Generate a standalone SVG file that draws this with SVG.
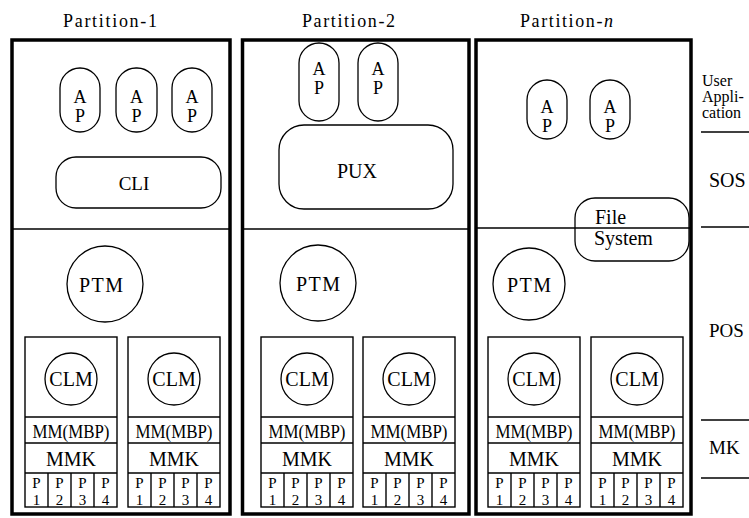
<svg xmlns="http://www.w3.org/2000/svg" width="749" height="518" viewBox="0 0 749 518" font-family="'Liberation Serif', 'Times New Roman', Times, 'DejaVu Serif', serif">
<style>
.frame{fill:none;stroke:#000;stroke-width:3.5}
.ln{fill:none;stroke:#000;stroke-width:1.3}
.cell{fill:none;stroke:#000;stroke-width:1.4}
text{font-family:'Liberation Serif','Times New Roman',Times,'DejaVu Serif',serif;fill:#000}
.t{text-anchor:middle}
.s20{font-size:20px}
.s19{font-size:19px}
.s18{font-size:18px}
.s17{font-size:17px}
.s15{font-size:15px}
.title{font-size:18px}
</style>
<rect width="749" height="518" fill="#fff"/>

<!-- Titles -->
<text class="title" x="63" y="27" textLength="94">Partition-1</text>
<text class="title" x="302" y="27" textLength="93">Partition-2</text>
<text class="title" x="520" y="27" textLength="93">Partition-<tspan font-style="italic">n</tspan></text>

<!-- Partition frames -->
<g id="partition-1">
<rect class="frame" x="12" y="40" width="218" height="474"/>
<line class="ln" x1="12" y1="229" x2="230" y2="229"/>
</g>
<g id="partition-2">
<rect class="frame" x="242.5" y="40" width="226.5" height="474"/>
<line class="ln" x1="242" y1="229" x2="469" y2="229"/>
</g>
<g id="partition-n">
<rect class="frame" x="476" y="40" width="215" height="474"/>
</g>

<!-- Partition-1 nodes -->
<g id="p1-ap1"><rect class="ln" x="60" y="68" width="40" height="64" rx="20"/><text class="t s18" x="80" y="103">A</text><text class="t s18" x="80" y="122">P</text></g>
<g id="p1-ap2"><rect class="ln" x="116" y="68" width="41" height="64" rx="20"/><text class="t s18" x="136.5" y="103">A</text><text class="t s18" x="136.5" y="122">P</text></g>
<g id="p1-ap3"><rect class="ln" x="172" y="68" width="40" height="64" rx="20"/><text class="t s18" x="192" y="103">A</text><text class="t s18" x="192" y="122">P</text></g>
<g id="p1-cli"><rect class="ln" x="56" y="157" width="165" height="51" rx="20"/><text class="t s19" x="134" y="190">CLI</text></g>
<g id="p1-ptm"><circle class="ln" cx="105" cy="284" r="38"/><text class="t s20" x="101" y="292" textLength="44">PTM</text></g>

<!-- Partition-2 nodes -->
<g id="p2-ap1"><rect class="ln" x="299" y="43" width="40" height="78" rx="20"/><text class="t s18" x="319" y="75">A</text><text class="t s18" x="319" y="94">P</text></g>
<g id="p2-ap2"><rect class="ln" x="358" y="43" width="40" height="78" rx="20"/><text class="t s18" x="378" y="75">A</text><text class="t s18" x="378" y="94">P</text></g>
<g id="p2-pux"><rect class="ln" x="279" y="125" width="174" height="84" rx="25"/><text class="t s20" x="357" y="178">PUX</text></g>
<g id="p2-ptm"><circle class="ln" cx="318" cy="283" r="38"/><text class="t s20" x="318" y="291" textLength="44">PTM</text></g>

<!-- Partition-n nodes -->
<g id="pn-ap1"><rect class="ln" x="527" y="80" width="40" height="59" rx="20"/><text class="t s18" x="547" y="113">A</text><text class="t s18" x="547" y="132">P</text></g>
<g id="pn-ap2"><rect class="ln" x="590" y="80" width="40" height="59" rx="20"/><text class="t s18" x="610" y="113">A</text><text class="t s18" x="610" y="132">P</text></g>
<g id="pn-fs"><rect class="ln" x="575" y="198" width="114" height="63" rx="20" fill="#fff"/><text class="s20" x="595" y="224">File</text><text class="s20" x="594" y="245">System</text></g>
<line class="ln" x1="476" y1="228" x2="691" y2="228"/>
<g id="pn-ptm"><circle class="ln" cx="529" cy="284" r="36"/><text class="t s20" x="529" y="292" textLength="44">PTM</text></g>

<!-- Cells -->
<defs>
<g id="cellT">
<rect class="cell" x="0" y="337" width="92" height="170"/>
<line class="cell" x1="0" y1="417" x2="92" y2="417"/>
<line class="cell" x1="0" y1="443" x2="92" y2="443"/>
<line class="cell" x1="0" y1="473" x2="92" y2="473"/>
<line class="cell" x1="23" y1="473" x2="23" y2="507"/>
<line class="cell" x1="46" y1="473" x2="46" y2="507"/>
<line class="cell" x1="69" y1="473" x2="69" y2="507"/>
<circle class="ln" cx="46" cy="379" r="26"/>
<text class="t s20" x="46" y="386">CLM</text>
<text class="t s19" x="46" y="438" textLength="77" lengthAdjust="spacingAndGlyphs">MM(MBP)</text>
<text class="t s20" x="46" y="466">MMK</text>
<text class="t s15" x="11.5" y="488">P</text><text class="t s15" x="11.5" y="505">1</text>
<text class="t s15" x="34.5" y="488">P</text><text class="t s15" x="34.5" y="505">2</text>
<text class="t s15" x="57.5" y="488">P</text><text class="t s15" x="57.5" y="505">3</text>
<text class="t s15" x="80.5" y="488">P</text><text class="t s15" x="80.5" y="505">4</text>
</g>
</defs>
<g id="p1-cell1"><use href="#cellT" x="25"/></g>
<g id="p1-cell2"><use href="#cellT" x="128"/></g>
<g id="p2-cell1"><use href="#cellT" x="261"/></g>
<g id="p2-cell2"><use href="#cellT" x="363"/></g>
<g id="pn-cell1"><use href="#cellT" x="488"/></g>
<g id="pn-cell2"><use href="#cellT" x="591"/></g>

<!-- Layer labels -->
<g id="layers">
<text font-size="16" x="702" y="86">User</text>
<text font-size="16" x="702" y="102">Appli-</text>
<text font-size="16" x="702" y="118">cation</text>
<line class="ln" x1="701" y1="132" x2="749" y2="132"/>
<text class="s20" x="709" y="187">SOS</text>
<line class="ln" x1="701" y1="227" x2="749" y2="227"/>
<text class="s19" x="709" y="337">POS</text>
<line class="ln" x1="701" y1="420" x2="749" y2="420"/>
<text class="s19" x="709" y="454">MK</text>
<line class="ln" x1="701" y1="478" x2="749" y2="478"/>
</g>
</svg>
